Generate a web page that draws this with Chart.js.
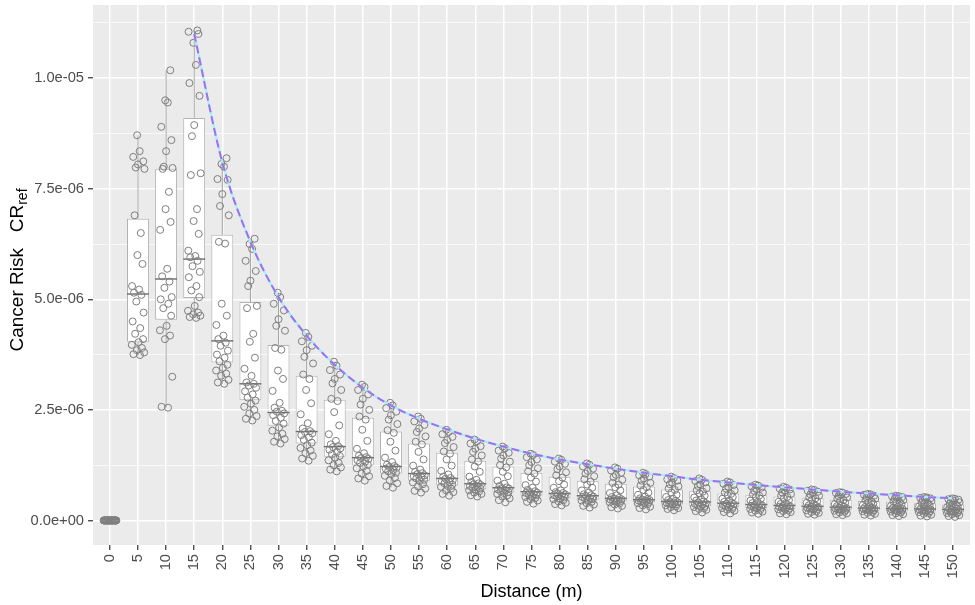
<!DOCTYPE html>
<html>
<head>
<meta charset="utf-8">
<script src="https://cdn.jsdelivr.net/npm/chart.js@4.4.1/dist/chart.umd.min.js"></script>
<style>
  html, body { margin: 0; padding: 0; background: #ffffff; }
  #wrap { width: 975px; height: 605px; }
</style>
</head>
<body>
<div id="wrap"><canvas id="c" width="975" height="605"></canvas></div>
<script>
// ---- data (cancer risk values in units of 1e-6) ----
const categories = [0,5,10,15,20,25,30,35,40,45,50,55,60,65,70,75,80,85,90,95,100,105,110,115,120,125,130,135,140,145,150];

const whiskerLow  = [0,3.72,2.55,4.58,3.09,2.26,1.74,1.35,1.11,0.90,0.74,0.63,0.56,0.54,0.41,0.38,0.34,0.29,0.27,0.25,0.23,0.18,0.16,0.15,0.14,0.13,0.12,0.11,0.10,0.09,0.08];
const q1          = [0,4.04,4.54,5.03,3.57,2.73,2.14,1.74,1.44,1.24,1.06,0.90,0.79,0.70,0.63,0.56,0.50,0.47,0.43,0.41,0.36,0.32,0.30,0.28,0.26,0.25,0.23,0.22,0.21,0.20,0.18];
const medians     = [0,5.12,5.46,5.91,4.06,3.09,2.44,2.01,1.67,1.42,1.22,1.06,0.95,0.83,0.74,0.65,0.61,0.56,0.50,0.47,0.43,0.42,0.39,0.36,0.34,0.32,0.30,0.28,0.27,0.26,0.25];
const q3          = [0,6.82,7.95,9.10,6.46,4.94,3.97,3.27,2.73,2.32,2.01,1.74,1.53,1.35,1.22,1.08,0.99,0.90,0.83,0.77,0.70,0.66,0.61,0.57,0.54,0.50,0.47,0.44,0.41,0.39,0.36];
const whiskerHigh = [0,8.71,10.18,11.08,8.19,6.37,5.15,4.24,3.59,3.07,2.66,2.35,2.05,1.83,1.67,1.51,1.40,1.29,1.20,1.08,0.99,0.95,0.88,0.81,0.76,0.70,0.64,0.60,0.56,0.53,0.50];

const pts_0   = [0,0,0,0,0,0,0,0,0,0,0,0,0,0,0,0,0,0,0,0,0,0,0,0,0,0,0,0];
const pts_5   = [3.74,3.76,3.80,3.85,3.90,3.97,4.03,4.10,4.22,4.35,4.50,4.70,4.95,5.10,5.15,5.22,5.30,5.80,6.00,6.50,6.90,7.95,7.98,8.05,8.12,8.22,8.35,8.71];
const pts_10  = [2.55,2.57,3.25,4.10,4.18,4.30,4.40,4.63,4.80,4.90,5.00,5.05,5.26,5.40,5.52,5.69,6.57,6.75,7.04,7.43,7.95,7.97,8.00,8.35,8.60,8.90,9.45,9.50,10.18];
const pts_15  = [4.58,4.60,4.63,4.66,4.70,4.74,4.85,5.05,5.20,5.30,5.50,5.62,5.75,5.87,5.95,5.98,6.10,6.48,6.77,7.04,7.81,7.85,8.69,8.94,9.60,9.89,10.30,10.80,11.00,11.05,11.08];
const pts_20  = [3.09,3.12,3.18,3.27,3.32,3.39,3.45,3.52,3.60,3.68,3.75,3.84,3.95,4.02,4.10,4.18,4.42,4.63,4.90,6.26,6.30,6.90,7.11,7.38,7.70,7.72,8.00,8.06,8.19];
const pts_25  = [2.26,2.30,2.36,2.42,2.50,2.57,2.64,2.71,2.78,2.85,2.92,3.00,3.05,3.09,3.12,3.27,3.43,3.68,4.04,4.22,4.80,4.85,5.30,5.42,5.64,5.87,6.14,6.25,6.37];
const pts_30  = [1.74,1.78,1.84,1.90,1.96,2.03,2.10,2.19,2.25,2.32,2.38,2.42,2.46,2.48,2.55,2.66,2.93,3.20,3.39,3.86,3.90,4.29,4.40,4.55,4.75,4.90,5.05,5.15];
const pts_35  = [1.35,1.40,1.46,1.52,1.58,1.64,1.70,1.76,1.82,1.88,1.93,1.97,2.00,2.02,2.08,2.20,2.40,2.65,2.95,3.20,3.30,3.55,3.70,3.85,3.95,4.05,4.15,4.24];
const pts_40  = [1.11,1.15,1.20,1.25,1.30,1.36,1.42,1.46,1.50,1.55,1.60,1.63,1.66,1.68,1.72,1.80,1.95,2.15,2.45,2.70,2.75,2.95,3.10,3.20,3.30,3.40,3.50,3.59];
const pts_45  = [0.90,0.95,1.00,1.06,1.12,1.18,1.22,1.26,1.30,1.33,1.36,1.39,1.41,1.43,1.46,1.52,1.62,1.80,2.05,2.28,2.35,2.50,2.62,2.75,2.85,2.95,3.02,3.07];
const pts_50  = [0.74,0.78,0.84,0.90,0.96,1.01,1.05,1.08,1.11,1.14,1.17,1.19,1.21,1.23,1.26,1.32,1.42,1.58,1.78,1.98,2.04,2.18,2.28,2.38,2.46,2.54,2.60,2.66];
const pts_55  = [0.63,0.67,0.72,0.77,0.82,0.86,0.89,0.92,0.95,0.98,1.00,1.02,1.05,1.07,1.10,1.15,1.24,1.38,1.55,1.72,1.78,1.90,2.00,2.08,2.16,2.24,2.30,2.35];
const pts_60  = [0.56,0.60,0.64,0.68,0.72,0.76,0.78,0.81,0.84,0.87,0.89,0.91,0.94,0.96,0.99,1.04,1.12,1.24,1.38,1.51,1.56,1.66,1.75,1.82,1.89,1.95,2.00,2.05];
const pts_65  = [0.54,0.57,0.60,0.63,0.66,0.68,0.70,0.72,0.74,0.76,0.78,0.80,0.82,0.84,0.87,0.92,0.99,1.10,1.22,1.33,1.38,1.47,1.55,1.62,1.68,1.74,1.79,1.83];
const pts_70  = [0.41,0.46,0.50,0.54,0.57,0.60,0.62,0.64,0.66,0.68,0.70,0.72,0.73,0.75,0.78,0.83,0.90,1.00,1.10,1.20,1.25,1.33,1.40,1.47,1.53,1.58,1.63,1.67];
const pts_75  = [0.38,0.42,0.45,0.48,0.51,0.53,0.55,0.57,0.59,0.60,0.62,0.63,0.64,0.66,0.69,0.74,0.80,0.88,0.97,1.06,1.11,1.18,1.25,1.32,1.38,1.43,1.48,1.51];
const pts_80  = [0.34,0.37,0.40,0.43,0.46,0.48,0.50,0.52,0.54,0.56,0.57,0.59,0.60,0.62,0.64,0.68,0.74,0.81,0.89,0.97,1.02,1.09,1.16,1.22,1.28,1.33,1.37,1.40];
const pts_85  = [0.29,0.33,0.36,0.39,0.42,0.45,0.46,0.48,0.50,0.51,0.53,0.54,0.55,0.57,0.59,0.63,0.68,0.74,0.81,0.88,0.93,1.00,1.06,1.12,1.17,1.22,1.26,1.29];
const pts_90  = [0.27,0.30,0.33,0.36,0.39,0.41,0.43,0.44,0.45,0.46,0.47,0.48,0.49,0.51,0.53,0.57,0.62,0.68,0.75,0.81,0.85,0.92,0.98,1.03,1.08,1.13,1.17,1.20];
const pts_95  = [0.25,0.28,0.31,0.34,0.37,0.39,0.40,0.42,0.43,0.44,0.45,0.46,0.47,0.48,0.50,0.54,0.58,0.63,0.69,0.75,0.79,0.85,0.90,0.95,0.99,1.02,1.05,1.08];
const pts_100 = [0.23,0.26,0.28,0.30,0.32,0.34,0.36,0.37,0.38,0.39,0.40,0.41,0.42,0.44,0.46,0.49,0.53,0.58,0.63,0.69,0.72,0.77,0.82,0.86,0.90,0.93,0.96,0.99];
const pts_105 = [0.18,0.21,0.24,0.26,0.28,0.30,0.32,0.33,0.35,0.36,0.38,0.39,0.41,0.43,0.45,0.48,0.52,0.56,0.61,0.65,0.68,0.73,0.78,0.82,0.86,0.89,0.92,0.95];
const pts_110 = [0.16,0.19,0.22,0.24,0.26,0.28,0.30,0.31,0.33,0.34,0.35,0.37,0.38,0.40,0.42,0.45,0.49,0.53,0.57,0.60,0.63,0.68,0.72,0.76,0.80,0.83,0.86,0.88];
const pts_115 = [0.15,0.18,0.20,0.22,0.24,0.26,0.28,0.29,0.30,0.32,0.33,0.34,0.35,0.37,0.39,0.42,0.45,0.49,0.53,0.56,0.59,0.63,0.67,0.71,0.74,0.77,0.79,0.81];
const pts_120 = [0.14,0.16,0.19,0.21,0.23,0.25,0.26,0.27,0.29,0.30,0.31,0.32,0.33,0.35,0.37,0.39,0.42,0.46,0.50,0.53,0.56,0.60,0.63,0.67,0.70,0.72,0.74,0.76];
const pts_125 = [0.13,0.15,0.17,0.19,0.21,0.23,0.25,0.26,0.27,0.28,0.29,0.30,0.31,0.33,0.34,0.37,0.40,0.43,0.47,0.50,0.52,0.56,0.59,0.62,0.65,0.67,0.69,0.70];
const pts_130 = [0.12,0.14,0.16,0.18,0.20,0.22,0.23,0.24,0.25,0.26,0.27,0.28,0.29,0.31,0.32,0.34,0.37,0.40,0.44,0.46,0.49,0.52,0.55,0.58,0.60,0.62,0.63,0.64];
const pts_135 = [0.11,0.13,0.15,0.17,0.19,0.21,0.22,0.23,0.24,0.25,0.26,0.27,0.28,0.29,0.30,0.32,0.35,0.38,0.41,0.43,0.46,0.49,0.52,0.54,0.56,0.58,0.59,0.60];
const pts_140 = [0.10,0.12,0.14,0.16,0.18,0.20,0.21,0.22,0.23,0.24,0.25,0.26,0.27,0.28,0.29,0.31,0.33,0.36,0.39,0.41,0.43,0.46,0.49,0.51,0.53,0.54,0.55,0.56];
const pts_145 = [0.09,0.11,0.13,0.15,0.17,0.19,0.20,0.21,0.22,0.23,0.24,0.25,0.26,0.27,0.28,0.30,0.32,0.34,0.37,0.39,0.41,0.44,0.46,0.48,0.50,0.51,0.52,0.53];
const pts_150 = [0.08,0.10,0.12,0.14,0.16,0.17,0.18,0.19,0.20,0.21,0.22,0.23,0.24,0.26,0.27,0.28,0.30,0.32,0.34,0.36,0.38,0.41,0.43,0.45,0.47,0.48,0.49,0.50];

const pointSets = [pts_0,pts_5,pts_10,pts_15,pts_20,pts_25,pts_30,pts_35,pts_40,pts_45,pts_50,pts_55,pts_60,pts_65,pts_70,pts_75,pts_80,pts_85,pts_90,pts_95,pts_100,pts_105,pts_110,pts_115,pts_120,pts_125,pts_130,pts_135,pts_140,pts_145,pts_150];

// fixed horizontal jitter offsets (distance units)
const jitterOffsets = [0.35,-0.8,1.1,-0.2,0.7,-1.1,0.1,0.9,-0.5,0.4,-0.95,1.0,-0.3,0.6,-0.7,0.2,-1.05,0.8,-0.1,0.5,-0.6,1.15,-0.4,0.0,0.95,-0.85,0.3,-0.15,0.75,-1.0,0.55];

// dashed decay curve
const fitX = [15,20,25,30,35,40,45,50,55,60,65,70,75,80,85,90,95,100,105,110,115,120,125,130,135,140,145,150];
const fitY = [11.00,8.10,6.30,5.05,4.18,3.52,3.00,2.60,2.30,2.06,1.85,1.67,1.51,1.38,1.27,1.17,1.08,1.00,0.92,0.86,0.80,0.75,0.70,0.65,0.61,0.57,0.53,0.50];

// y ticks
const yMajorValues = [0,2.5,5,7.5,10];
const yTickLabels  = ['0.0e+00','2.5e-06','5.0e-06','7.5e-06','1.0e-05'];
const yMinorValues = [1.25,3.75,6.25,8.75,11.25];

const xTitle = 'Distance (m)';
const yTitleMain = 'Cancer Risk   CR';
const yTitleSub = 'ref';

// ---- build datasets ----
const boxData = categories.map((c, i) => ({ x: c, y: [q1[i], q3[i]] }));
const pointData = [];
categories.forEach((c, i) => {
  pointSets[i].forEach((v, j) => {
    pointData.push({ x: c + jitterOffsets[j % jitterOffsets.length], y: v });
  });
});
const fitData = fitX.map((x, i) => ({ x: x, y: fitY[i] }));

const FONT = "'Liberation Sans', Arial, Helvetica, sans-serif";

const panelBg = {
  id: 'panelBg',
  beforeDraw(chart) {
    const a = chart.chartArea, ctx = chart.ctx;
    ctx.save();
    ctx.fillStyle = '#EBEBEB';
    ctx.fillRect(a.left, a.top, a.right - a.left, a.bottom - a.top);
    ctx.restore();
  }
};

const boxExtras = {
  id: 'boxExtras',
  afterDatasetDraw(chart, args) {
    if (args.index !== 0) return;
    const xs = chart.scales.x, ys = chart.scales.y, ctx = chart.ctx;
    const meta = chart.getDatasetMeta(0);
    ctx.save();
    const a = chart.chartArea;
    ctx.beginPath();
    ctx.rect(a.left, a.top, a.right - a.left, a.bottom - a.top);
    ctx.clip();
    categories.forEach((c, i) => {
      const px = xs.getPixelForValue(c);
      const el = meta.data[i];
      const half = el ? el.width / 2 : 11;
      ctx.strokeStyle = '#A3A3A3';
      ctx.lineWidth = 1;
      ctx.beginPath();
      ctx.moveTo(px, ys.getPixelForValue(whiskerHigh[i]));
      ctx.lineTo(px, ys.getPixelForValue(q3[i]));
      ctx.moveTo(px, ys.getPixelForValue(q1[i]));
      ctx.lineTo(px, ys.getPixelForValue(whiskerLow[i]));
      ctx.stroke();
      if (i > 0) {
        ctx.strokeStyle = '#6A6A6A';
        ctx.lineWidth = 1.4;
        const my = ys.getPixelForValue(medians[i]);
        ctx.beginPath();
        ctx.moveTo(px - half, my);
        ctx.lineTo(px + half, my);
        ctx.stroke();
      }
    });
    ctx.restore();
  }
};

const axisTitles = {
  id: 'axisTitles',
  afterDraw(chart) {
    const ctx = chart.ctx, a = chart.chartArea;
    ctx.save();
    ctx.fillStyle = '#000000';
    ctx.textBaseline = 'alphabetic';
    // x title
    ctx.font = '18px ' + FONT;
    ctx.textAlign = 'center';
    ctx.fillText(xTitle, (a.left + a.right) / 2, 597);
    // y title with subscript
    ctx.translate(23, 270);
    ctx.rotate(-Math.PI / 2);
    ctx.textAlign = 'left';
    ctx.font = '19px ' + FONT;
    const w1 = ctx.measureText(yTitleMain).width;
    ctx.font = '14px ' + FONT;
    const w2 = ctx.measureText(yTitleSub).width;
    const start = -(w1 + w2) / 2;
    ctx.font = '19px ' + FONT;
    ctx.fillText(yTitleMain, start, 0);
    ctx.font = '14px ' + FONT;
    ctx.fillText(yTitleSub, start + w1, 4);
    ctx.restore();
  }
};

new Chart(document.getElementById('c'), {
  type: 'scatter',
  data: {
    datasets: [
      {
        type: 'bar',
        data: boxData,
        backgroundColor: '#FFFFFF',
        borderColor: '#B3B3B3',
        borderWidth: 1,
        borderSkipped: false,
        barPercentage: 0.78,
        categoryPercentage: 1.0,
        order: 3
      },
      {
        type: 'scatter',
        data: pointData,
        pointRadius: 3.5,
        pointBorderWidth: 1,
        pointBorderColor: '#7F7F7F',
        pointBackgroundColor: 'rgba(0,0,0,0)',
        order: 2
      },
      {
        type: 'line',
        data: fitData,
        showLine: true,
        borderColor: '#A6F0F2',
        borderWidth: 2.2,
        pointRadius: 0,
        fill: false,
        cubicInterpolationMode: 'monotone',
        order: 1
      },
      {
        type: 'line',
        data: fitData,
        showLine: true,
        borderColor: '#9F6FF0',
        borderWidth: 2,
        borderDash: [8, 4],
        pointRadius: 0,
        fill: false,
        cubicInterpolationMode: 'monotone',
        order: 0
      }
    ]
  },
  options: {
    responsive: false,
    animation: false,
    devicePixelRatio: 1,
    layout: { padding: { top: 3, right: 3, left: 0, bottom: 0 } },
    plugins: {
      legend: { display: false },
      tooltip: { enabled: false },
      title: { display: false }
    },
    scales: {
      x: {
        type: 'linear',
        min: -3,
        max: 153,
        offset: false,
        border: { display: false },
        grid: {
          offset: false,
          color: '#FFFFFF',
          lineWidth: 1.5,
          tickColor: '#333333',
          tickLength: 5,
          tickWidth: 1.2
        },
        ticks: {
          autoSkip: false,
          minRotation: 90,
          maxRotation: 90,
          padding: 4,
          color: '#4D4D4D',
          font: { family: FONT, size: 14.7 },
          callback: (v) => String(v)
        },
        afterBuildTicks: (scale) => { scale.ticks = categories.map(v => ({ value: v })); },
        afterFit: (scale) => { scale.height = 60; scale.paddingLeft = 0; scale.paddingRight = 0; }
      },
      y: {
        type: 'linear',
        min: -0.555,
        max: 11.655,
        border: { display: false },
        grid: {
          color: '#FFFFFF',
          lineWidth: (ctx) => (ctx.tick && yMinorValues.includes(ctx.tick.value)) ? 0.7 : 1.5,
          tickColor: (ctx) => (ctx.tick && yMinorValues.includes(ctx.tick.value)) ? 'rgba(0,0,0,0)' : '#333333',
          tickLength: 5,
          tickWidth: 1.2
        },
        ticks: {
          padding: 4,
          color: '#4D4D4D',
          font: { family: FONT, size: 14.7 },
          callback: (v) => {
            const k = yMajorValues.indexOf(v);
            return k >= 0 ? yTickLabels[k] : '';
          }
        },
        afterBuildTicks: (scale) => {
          scale.ticks = yMajorValues.concat(yMinorValues).sort((a, b) => a - b).map(v => ({ value: v }));
        },
        afterFit: (scale) => { scale.width = 93; scale.paddingTop = 0; scale.paddingBottom = 0; }
      }
    }
  },
  plugins: [panelBg, boxExtras, axisTitles]
});
</script>
</body>
</html>
